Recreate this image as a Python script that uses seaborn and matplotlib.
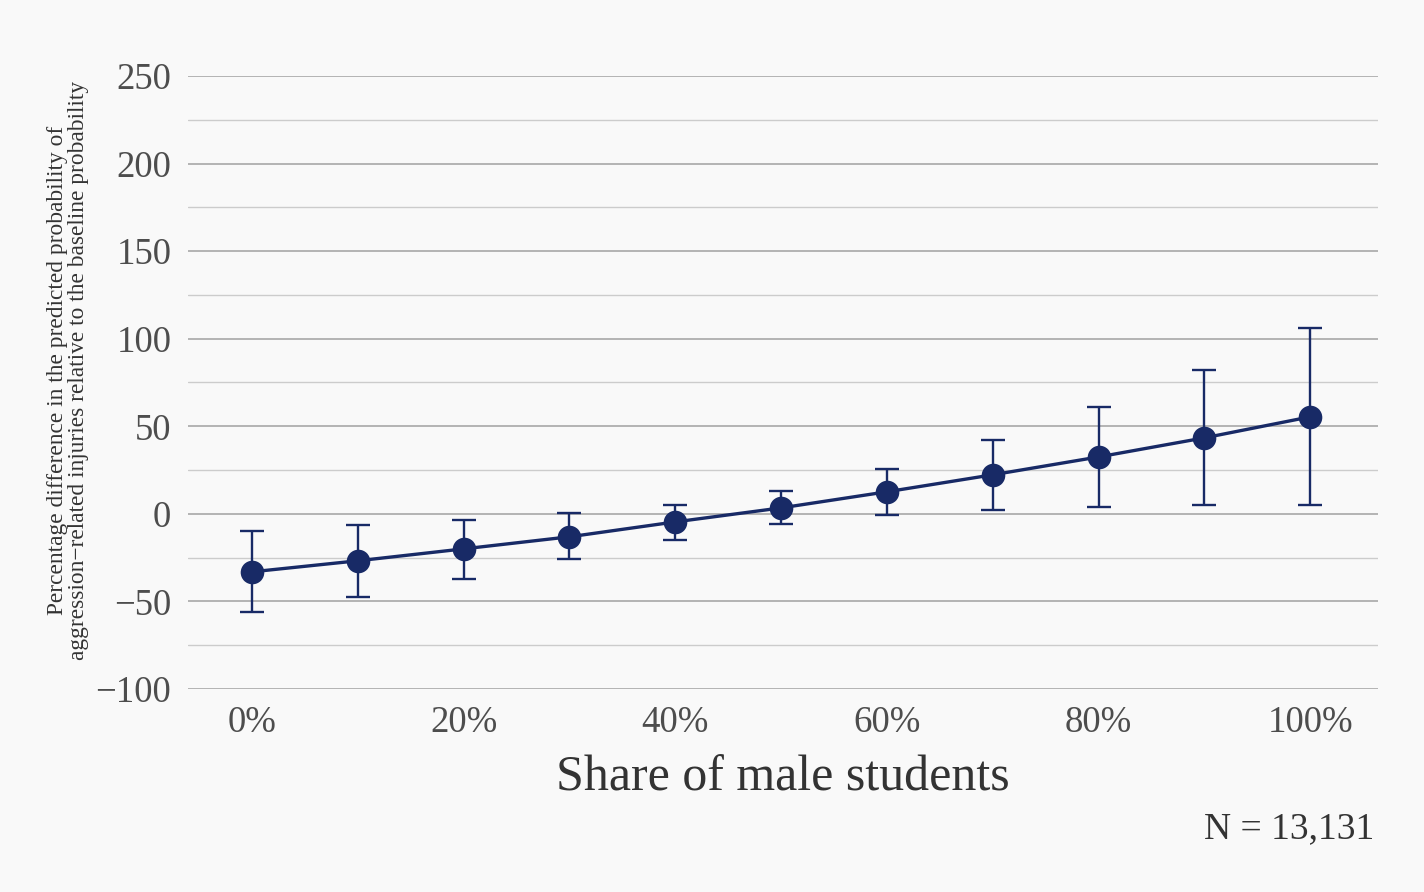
import pandas as pd
import matplotlib.pyplot as plt
import seaborn as sns

# share of male students (percent) and estimated effect with CI
share_male = [0, 10, 20, 30, 40, 50, 60, 70, 80, 90, 100]
estimate = [-33.1, -26.8, -20.0, -13.1, -4.6, 3.4, 12.6, 22.3, 32.5, 43.4, 55.4]
ci_upper = [-9.7, -6.3, -3.4, 0.6, 5.1, 13.1, 25.7, 42.3, 61.1, 82.2, 106.2]
ci_lower = [-56.0, -47.4, -37.1, -25.7, -14.8, -5.7, -0.6, 2.3, 4.0, 5.1, 5.1]

x_ticks = [0, 20, 40, 60, 80, 100]
x_ticklabels = ['0%', '20%', '40%', '60%', '80%', '100%']
y_ticks = [-100, -50, 0, 50, 100, 150, 200, 250]

NAVY = '#182a66'
BG = '#f9f9f9'


def build_frame():
    df = pd.DataFrame({'share': share_male, 'est': estimate,
                       'lo': ci_lower, 'hi': ci_upper})
    return df


def plot_effects(df):
    sns.set_theme(style='white')
    plt.rcParams['font.family'] = ['Liberation Serif', 'DejaVu Serif']
    fig = plt.figure(figsize=(14.24, 8.92), dpi=100, facecolor=BG)
    ax = fig.add_axes([0.132, 0.2276, 0.8357, 0.6872])
    ax.set_facecolor(BG)

    # gridlines: major every 50, minor every 25
    for v in range(-100, 251, 25):
        major = v % 50 == 0
        ax.axhline(v, color='#a8a8a8' if major else '#cccccc',
                   lw=1.2 if major else 1.0, zorder=0)

    ax.errorbar(df['share'], df['est'],
                yerr=[df['est'] - df['lo'], df['hi'] - df['est']],
                fmt='none', ecolor=NAVY, elinewidth=1.7, capsize=8.5,
                capthick=1.7, zorder=2)
    sns.lineplot(data=df, x='share', y='est', ax=ax, color=NAVY, lw=2.4,
                 marker='o', markersize=17, markeredgewidth=0, zorder=3)

    ax.set_xlim(-6.05, 106.4)
    ax.set_ylim(-100, 250)
    ax.set_xticks(x_ticks)
    ax.set_xticklabels(x_ticklabels)
    ax.set_yticks(y_ticks)
    ax.set_yticklabels([str(v).replace('-', '\u2212') for v in y_ticks])
    ax.tick_params(axis='both', length=0, labelsize=26.5, colors='#4d4d4d')
    ax.tick_params(axis='y', pad=12)
    ax.tick_params(axis='x', pad=12)
    for s in ax.spines.values():
        s.set_visible(False)

    ax.set_xlabel('Share of male students', fontsize=36, color='#333333',
                  labelpad=11)
    ax.set_ylabel('Percentage difference in the predicted probability of\n'
                  'aggression\u2212related injuries relative to the baseline probability',
                  fontsize=16.8, color='#333333', labelpad=5, linespacing=1.0)
    ax.yaxis.label.set_y(0.52)
    fig.text(0.965, 0.071, 'N = 13,131', ha='right', va='center',
             fontsize=27, color='#333333')
    fig.savefig('out.png', dpi=100, facecolor=BG)


if __name__ == "__main__":
    data = build_frame()
    plot_effects(data)
